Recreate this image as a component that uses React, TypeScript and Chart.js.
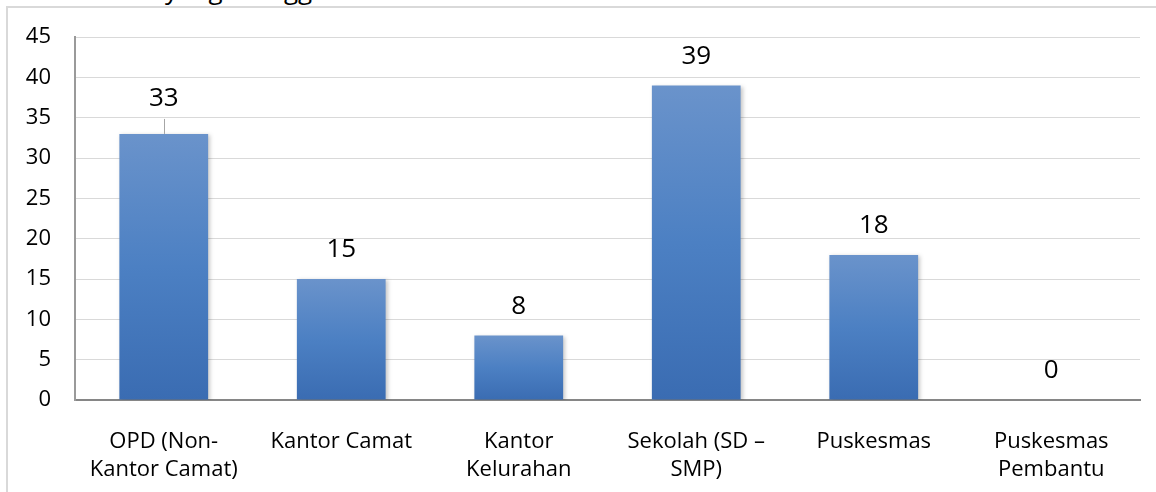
import React, { useEffect, useRef } from "react";
import { Chart, registerables } from "chart.js";
Chart.register(...registerables);

const categories: (string | string[])[] = [
  ["OPD (Non-", "Kantor Camat)"],
  "Kantor Camat",
  ["Kantor", "Kelurahan"],
  ["Sekolah (SD –", "SMP)"],
  "Puskesmas",
  ["Puskesmas", "Pembantu"],
];
const values = [33, 15, 8, 39, 18, 0];
const yMin = 0;
const yMax = 45;
const yStep = 5;

const FONT = '"Open Sans", "Noto Sans", sans-serif';

const barShadow = {
  id: "barShadow",
  beforeDatasetsDraw(chart: any) {
    const ctx = chart.ctx;
    ctx.save();
    ctx.shadowColor = "rgba(0,0,0,0.22)";
    ctx.shadowBlur = 4;
    ctx.shadowOffsetX = 2;
    ctx.shadowOffsetY = 1;
  },
  afterDatasetsDraw(chart: any) {
    chart.ctx.restore();
  },
};

const valueLabels = {
  id: "valueLabels",
  afterDatasetsDraw(chart: any) {
    const ctx = chart.ctx;
    const meta = chart.getDatasetMeta(0);
    ctx.save();
    ctx.font = `26px ${FONT}`;
    ctx.fillStyle = "#000";
    ctx.textAlign = "center";
    ctx.textBaseline = "middle";
    meta.data.forEach((bar: any, i: number) => {
      const lifted = i === 0;
      const y = bar.y - (lifted ? 35 : 29);
      if (lifted) {
        ctx.strokeStyle = "#a6a6a6";
        ctx.lineWidth = 1;
        ctx.beginPath();
        ctx.moveTo(Math.round(bar.x) + 0.5, bar.y - 15);
        ctx.lineTo(Math.round(bar.x) + 0.5, bar.y);
        ctx.stroke();
      }
      ctx.fillText(String(values[i]), bar.x, y);
    });
    ctx.restore();
  },
};

export default function App() {
  const ref = useRef<HTMLCanvasElement>(null);
  useEffect(() => {
    if (!ref.current) return;
    const chart = new Chart(ref.current, {
      type: "bar",
      data: {
        labels: categories,
        datasets: [
          {
            data: values,
            categoryPercentage: 1,
            barPercentage: 0.5,
            borderWidth: 0,
            backgroundColor: (c: any) => {
              const ch = c.chart;
              const ys = ch.scales?.y;
              if (!ys || c.raw === undefined) return "#4a7ec2";
              const top = ys.getPixelForValue(c.raw);
              const bottom = ys.getPixelForValue(0);
              if (!(bottom - top > 0)) return "#4a7ec2";
              const g = ch.ctx.createLinearGradient(0, top, 0, bottom);
              g.addColorStop(0, "#6a93cb");
              g.addColorStop(0.5, "#4c80c3");
              g.addColorStop(1, "#3a6cb2");
              return g;
            },
          },
        ],
      },
      options: {
        animation: false,
        responsive: false,
        maintainAspectRatio: false,
        layout: { padding: { left: 0, top: 34, right: 16, bottom: 0 } },
        plugins: { legend: { display: false }, tooltip: { enabled: false } },
        scales: {
          x: {
            grid: { display: false, drawTicks: false },
            border: { color: "#868686", width: 2 },
            ticks: {
              color: "#000",
              font: { family: FONT, size: 22, lineHeight: 1.27 },
              padding: 28,
              maxRotation: 0,
              autoSkip: false,
            },
            afterFit: (s: any) => {
              s.height = 92;
            },
          },
          y: {
            min: yMin,
            max: yMax,
            grid: { color: "#d9d9d9", lineWidth: 1, drawTicks: false },
            border: { color: "#9a9a9a", width: 2 },
            ticks: {
              stepSize: yStep,
              color: "#000",
              font: { family: FONT, size: 22 },
              padding: 24,
            },
            afterFit: (s: any) => {
              s.width = 75;
            },
          },
        },
      },
      plugins: [barShadow, valueLabels],
    });
    return () => chart.destroy();
  }, []);

  return (
    <div
      style={{
        position: "fixed",
        left: 0,
        top: 0,
        width: 1156,
        height: 492,
        overflow: "hidden",
        background: "#fff",
      }}
    >
      <div
        style={{
          position: "absolute",
          left: 165,
          top: -26,
          fontFamily: FONT,
          fontSize: 26,
          lineHeight: "30px",
          whiteSpace: "nowrap",
          color: "#000",
        }}
      >
        yang menggunakan
      </div>
      <div
        style={{
          position: "absolute",
          left: 6,
          top: 6,
          width: 1160,
          height: 500,
          borderLeft: "2px solid #d9d9d9",
          borderTop: "2px solid #d9d9d9",
        }}
      />
      <canvas
        ref={ref}
        width={1156}
        height={492}
        style={{ position: "absolute", left: 0, top: 0 }}
      />
    </div>
  );
}
